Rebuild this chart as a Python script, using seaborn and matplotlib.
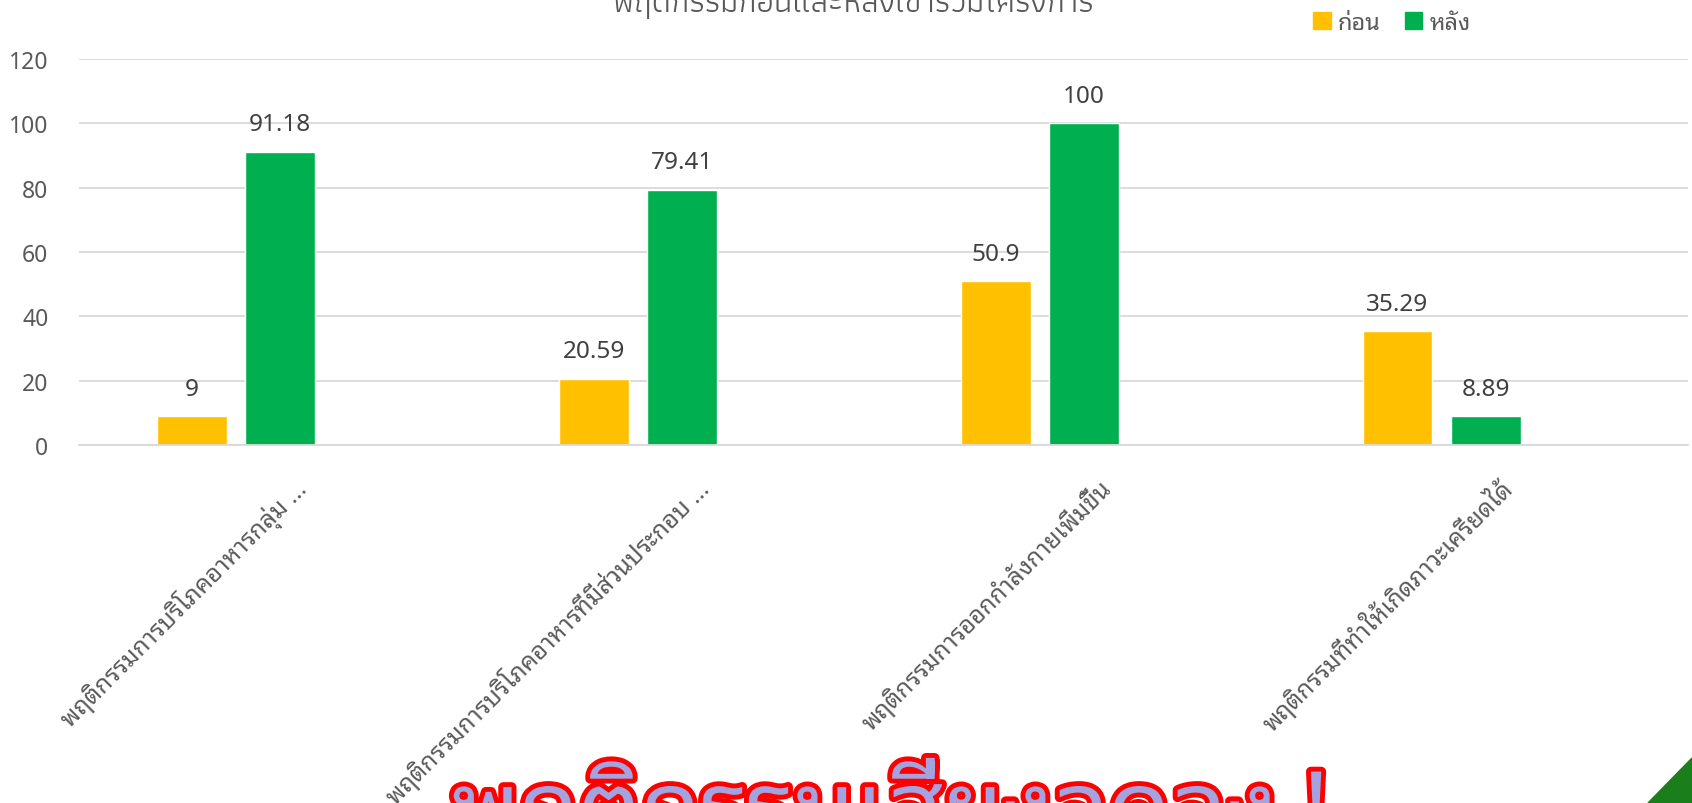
import matplotlib
matplotlib.use("Agg")
import pandas as pd
import matplotlib.pyplot as plt
import seaborn as sns
from matplotlib import font_manager
from matplotlib.transforms import ScaledTranslation
from matplotlib.patches import Polygon
import matplotlib.patheffects as pe

categories = [
    "พฤติกรรมการบริโภคอาหารกลุ่ม ...",
    "พฤติกรรมการบริโภคอาหารที่มีส่วนประกอบ ...",
    "พฤติกรรมการออกกำลังกายเพิ่มขึ้น",
    "พฤติกรรมที่ทำให้เกิดภาวะเครียดได้",
]
before = [9, 20.59, 50.9, 35.29]
after = [91.18, 79.41, 100, 8.89]
series_names = ["ก่อน", "หลัง"]
title = "พฤติกรรมก่อนและหลังเข้าร่วมโครงการ"
banner = "พฤติกรรมเสี่ยงลดลง !"
yticks = [0, 20, 40, 60, 80, 100, 120]

installed = set(f.name for f in font_manager.fontManager.ttflist)
def pick(*names):
    for n in names:
        if n in installed:
            return n
    return "DejaVu Sans"

thai_loop = pick("Noto Sans Thai Looped", "Sarabun", "Athiti")
thai_plain = pick("Athiti", "Noto Sans Thai", "Bai Jamjuree")

df = pd.DataFrame({
    "cat": categories * 2,
    "value": before + after,
    "series": [series_names[0]] * 4 + [series_names[1]] * 4,
})

sns.set_theme(style="white")
plt.rcParams["font.family"] = [thai_loop, "Noto Sans", "DejaVu Sans"]

fig = plt.figure(figsize=(16.92, 8.04), dpi=100)
ax = fig.add_axes([79 / 1692, 1 - 446 / 804, (1688 - 79) / 1692, (446 - 60) / 804])

sns.barplot(data=df, x="cat", y="value", hue="series", order=categories,
            hue_order=series_names, palette=["#FFC000", "#00B050"],
            width=0.44, gap=0.21, saturation=1, ax=ax, legend=False)

for cont in ax.containers:
    ax.bar_label(cont, fmt="%g", padding=11, fontsize=17.5, color="#404040")

ax.set_ylim(0, 120)
ax.set_xlim(-0.391, 3.613)
ax.set_yticks(yticks)
ax.grid(axis="y", color="#d9d9d9", linewidth=1.3)
ax.set_axisbelow(True)
for s in ["top", "right", "left"]:
    ax.spines[s].set_visible(False)
ax.spines["bottom"].set_color("#d9d9d9")
ax.spines["bottom"].set_linewidth(1.3)
ax.set_xlabel("")
ax.set_ylabel("")
ax.tick_params(axis="y", length=0, pad=22, labelsize=16.5, labelcolor="#595959")
ax.tick_params(axis="x", length=0, pad=28, labelsize=17.5, labelcolor="#595959")
shift = ScaledTranslation(0.67, 0, fig.dpi_scale_trans)
for lab in ax.get_xticklabels():
    lab.set_rotation(45)
    lab.set_ha("right")
    lab.set_va("center")
    lab.set_rotation_mode("anchor")
    lab.set_transform(lab.get_transform() + shift)

# legend at top right
handles = [plt.Rectangle((0, 0), 1, 1, color=c) for c in ["#FFC000", "#00B050"]]
fig.legend(handles, series_names, loc="upper left", bbox_to_anchor=(1292 / 1692, 1.012),
           ncol=2, frameon=False, fontsize=17, handlelength=0.75, handleheight=0.75,
           handletextpad=0.3, columnspacing=1.0, labelcolor="#595959")

# title clipped at the top edge
fig.text(853 / 1692, 1 - 12 / 804, title, ha="center", va="baseline",
         fontsize=24, color="#595959", family=[thai_plain, "DejaVu Sans"])

# big red banner text at the bottom
fig.text(452 / 1692, 1 - 842 / 804, banner, ha="left", va="baseline",
         fontsize=70, fontweight="bold", color="#a3a3e0",
         family=[thai_loop, "DejaVu Sans"],
         path_effects=[pe.Stroke(linewidth=7, foreground="#ff0000"), pe.Normal()])

# green corner of the slide
fig.patches.append(Polygon([(1, 0), (1, 45 / 804), (1648 / 1692, 0)], closed=True,
                           transform=fig.transFigure, color="#1a7f1a", zorder=5))

fig.savefig("out.png", dpi=100)
